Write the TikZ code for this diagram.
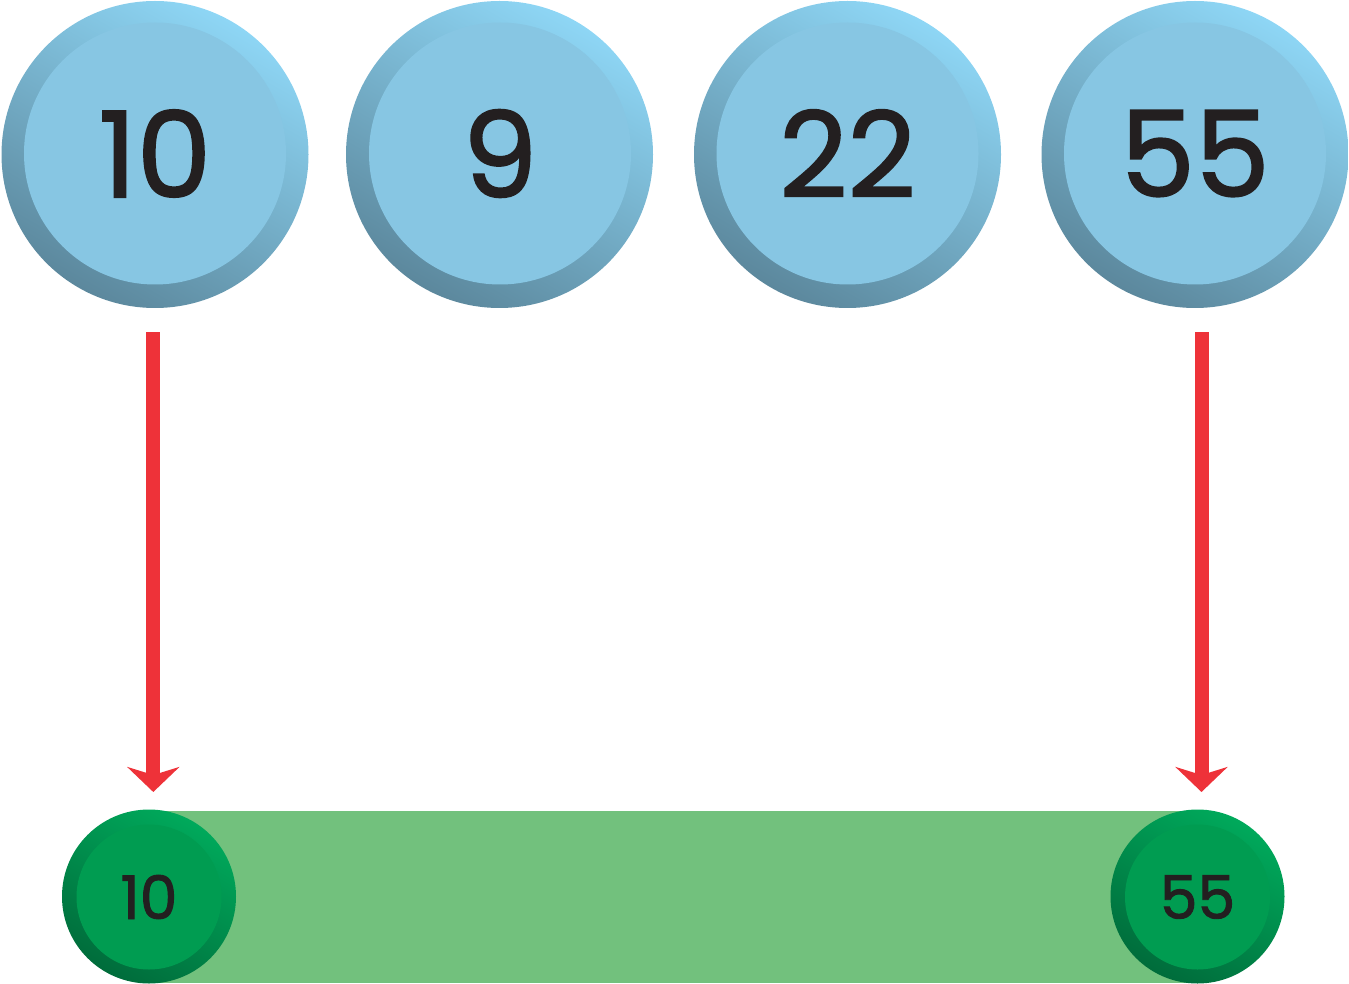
\documentclass[tikz,border=0pt]{standalone}
\usepackage{fontspec}
\setmainfont{Poppins}[FakeBold=1.5]
\usetikzlibrary{arrows.meta}
\definecolor{bluelight}{HTML}{8ED6F5}
\definecolor{bluedark}{HTML}{5C889D}
\definecolor{blueinner}{HTML}{87C6E3}
\definecolor{greenlight}{HTML}{00A95B}
\definecolor{greendark}{HTML}{006C3B}
\definecolor{greeninner}{HTML}{009C51}
\definecolor{greenband}{HTML}{72C17D}
\definecolor{arrowred}{HTML}{EE3239}
\definecolor{digit}{HTML}{231F20}
\tikzset{
  ringblue/.style={circle, inner sep=0pt, outer sep=0pt, minimum size=307pt,
    top color=bluelight, bottom color=bluedark, shading angle=-30, draw=none},
  coreblue/.style={circle, inner sep=0pt, outer sep=0pt, minimum size=262pt,
    fill=blueinner, draw=none, text=digit, font=\fontsize{119}{119}\selectfont},
  ringgreen/.style={circle, inner sep=0pt, outer sep=0pt, minimum size=174pt,
    top color=greenlight, bottom color=greendark, shading angle=-30, draw=none},
  coregreen/.style={circle, inner sep=0pt, outer sep=0pt, minimum size=145pt,
    fill=greeninner, draw=none, text=digit, font=\fontsize{60}{60}\selectfont},
  redarrow/.style={draw=arrowred, line width=14pt, line cap=butt,
    -{Stealth[length=25pt, width=52pt, inset=8pt, fill=arrowred]}},
}
\begin{document}
\begin{tikzpicture}[x=1pt, y=-1pt]
\useasboundingbox (0,0) rectangle (1349,984);
% top row
\node[ringblue] (r1) at (155,154.5) {};
\node[coreblue] (k1) at (155,153.5) {10};
\node[ringblue] (r2) at (499.5,154.5) {};
\node[coreblue] (k2) at (500,153.5) {9};
\node[ringblue] (r3) at (847.5,154.5) {};
\node[coreblue] (k3) at (847.5,153.5) {22};
\node[ringblue] (r4) at (1195,154.5) {};
\node[coreblue] (k4) at (1195,153.5) {55};
% band
\fill[greenband] (150,811) rectangle (1197,983);
% bottom circles
\node[ringgreen] (g1) at (149,896.5) {};
\node[coregreen] (h1) at (149,897) {10};
\node[ringgreen] (g2) at (1197.5,896.5) {};
\node[coregreen] (h2) at (1197.5,897) {55};
% arrows
\coordinate (a1s) at (153.3,332);
\coordinate (a1e) at (153.3,792);
\coordinate (a2s) at (1201.5,332);
\coordinate (a2e) at (1201.5,792);
\draw[redarrow] (a1s) -- (a1e);
\draw[redarrow] (a2s) -- (a2e);
\end{tikzpicture}
\end{document}
